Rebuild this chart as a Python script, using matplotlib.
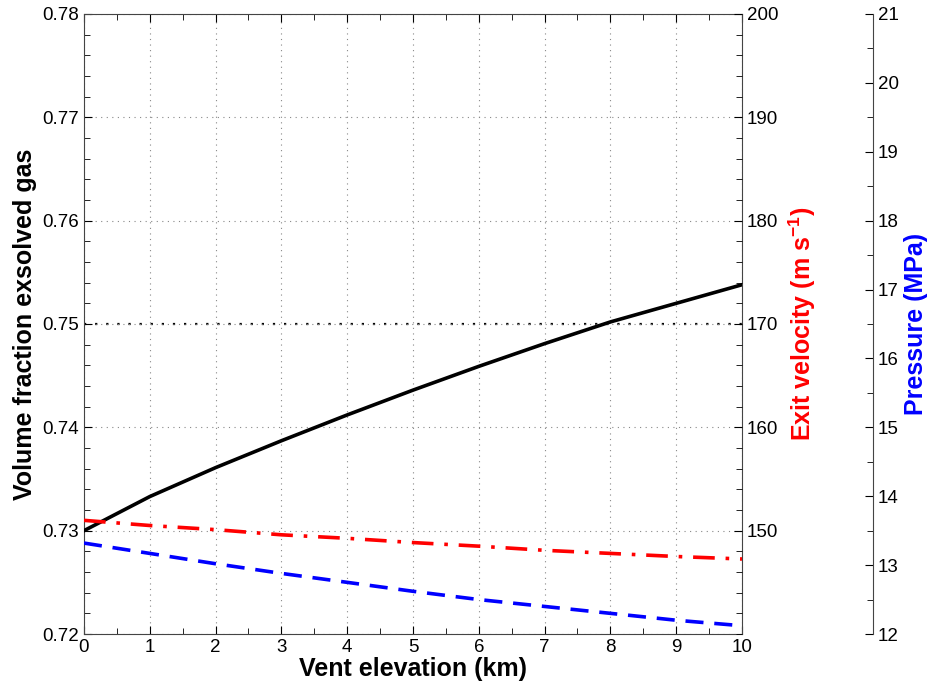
import numpy as np
import matplotlib
matplotlib.use('Agg')
import matplotlib.pyplot as plt
from matplotlib.ticker import MultipleLocator

plt.rcParams['font.family'] = ['Liberation Sans', 'DejaVu Sans']
plt.rcParams['mathtext.fontset'] = 'custom'
plt.rcParams['mathtext.rm'] = 'Liberation Sans:bold'
plt.rcParams['mathtext.bf'] = 'Liberation Sans:bold'
plt.rcParams['mathtext.default'] = 'bf'

# data
elev = [0, 1, 2, 3, 4, 5, 6, 7, 8, 9, 10]
gas_frac = [0.7300, 0.7333, 0.7361, 0.7387, 0.7412, 0.7436, 0.7459, 0.7481, 0.7502, 0.7520, 0.7538]
exit_vel = [151.0, 150.5, 150.1, 149.6, 149.26, 148.85, 148.5, 148.1, 147.8, 147.5, 147.26]
pressure = [13.32, 13.17, 13.02, 12.88, 12.75, 12.62, 12.50, 12.40, 12.30, 12.20, 12.12]

fig = plt.figure(figsize=(9.31, 6.92), dpi=100)
ax = fig.add_axes([0.0902, 0.0838, 0.7068, 0.896])

ax.plot(elev, gas_frac, color='k', lw=2.6, zorder=5)
ax.set_xlim(0, 10)
ax.set_ylim(0.72, 0.78)
ax.xaxis.set_major_locator(MultipleLocator(1))
ax.xaxis.set_minor_locator(MultipleLocator(0.5))
ax.yaxis.set_major_locator(MultipleLocator(0.01))
ax.yaxis.set_minor_locator(MultipleLocator(0.002))
ax.set_yticklabels(['%.2f' % v for v in ax.get_yticks()])
ax.grid(True, which='major', color='#888888', linestyle=(0, (1, 4)), lw=0.8)
ax.axhline(0.75, color='k', linestyle=(0, (1, 4)), lw=1.6, zorder=1)
ax.tick_params(which='both', direction='in', top=True, labelsize=13.5, colors='k')
ax.tick_params(which='major', length=6)
ax.tick_params(which='minor', length=4)
ax.set_xlabel('Vent elevation (km)', fontsize=18, fontweight='bold', labelpad=1)
ax.set_ylabel('Volume fraction exsolved gas', fontsize=18, fontweight='bold', labelpad=4)
for s in ax.spines.values():
    s.set_color('#444444')

# exit velocity axis
ax2 = ax.twinx()
ax2.plot(elev, exit_vel, color='red', lw=2.6, linestyle=(0, (6, 3, 1, 3)))
ax2.set_ylim(140, 200)
ax2.yaxis.set_major_locator(MultipleLocator(10))
ax2.yaxis.set_minor_locator(MultipleLocator(2))
ax2.set_yticks([150, 160, 170, 180, 190, 200])
ax2.tick_params(which='both', direction='in', labelsize=13.5)
ax2.tick_params(which='major', length=6)
ax2.tick_params(which='minor', length=4)
ax2.set_ylabel(r'Exit velocity (m s$^{-1}$)', fontsize=18, fontweight='bold',
               color='red', labelpad=6)
for s in ax2.spines.values():
    s.set_visible(False)

# pressure axis
ax3 = ax.twinx()
ax3.spines['right'].set_position(('axes', 1.199))
for k in ['left', 'top', 'bottom']:
    ax3.spines[k].set_visible(False)
ax3.spines['right'].set_color('#444444')
ax3.plot(elev, pressure, color='blue', lw=2.6, linestyle=(0, (5, 3)))
ax3.set_ylim(12, 21)
ax3.yaxis.set_major_locator(MultipleLocator(1))
ax3.yaxis.set_minor_locator(MultipleLocator(0.5))
ax3.tick_params(which='both', direction='in', labelsize=13.5)
ax3.tick_params(which='major', length=6)
ax3.tick_params(which='minor', length=4)
ax3.set_ylabel('Pressure (MPa)', fontsize=18, fontweight='bold', color='blue', labelpad=4)

fig.savefig('out.png', dpi=100)
